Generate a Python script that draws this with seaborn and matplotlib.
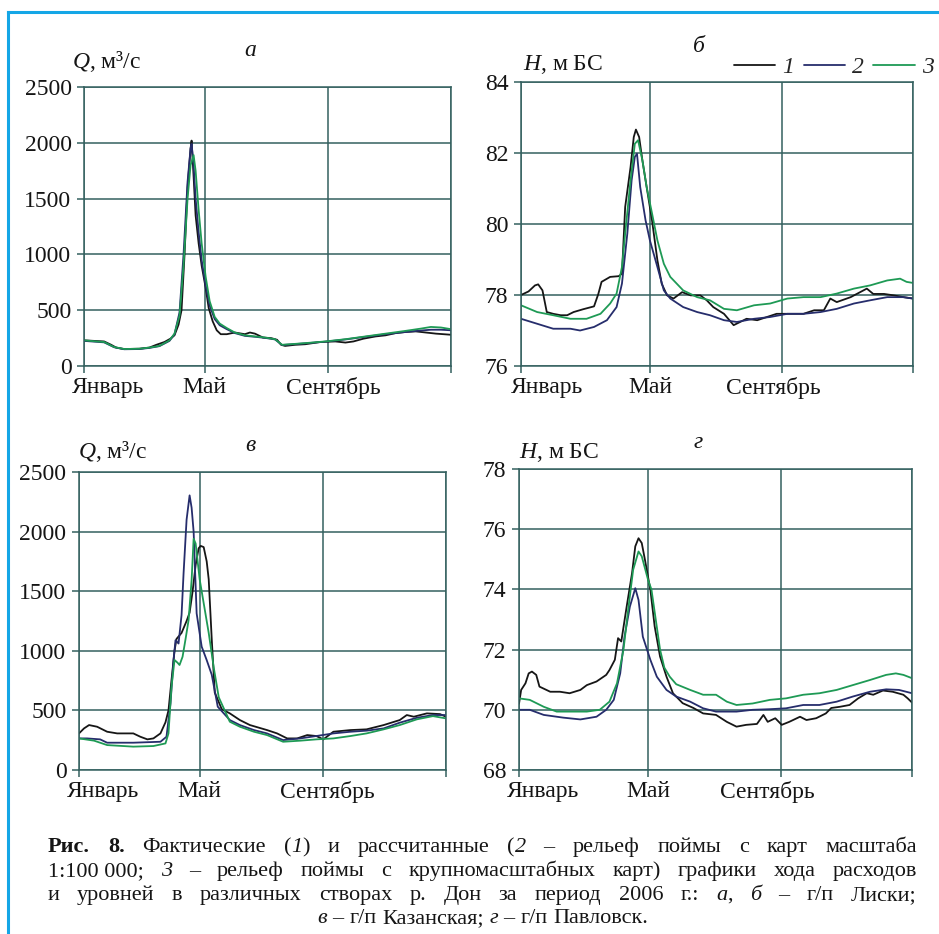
import re
import matplotlib
matplotlib.use("Agg")
import matplotlib.pyplot as plt
import seaborn as sns
from matplotlib.lines import Line2D

# ---------------- data (day of year 2006) -------------
MONTHS = ["Январь", "Май", "Сентябрь"]
MONTH_DAYS = [0, 120, 243]
XTICKS = [0, 120, 243, 365]
LEGEND_LABELS = ["1", "2", "3"]

# panel а (Q, Liski)
A_DAY_1 = [0, 10, 20, 27, 32, 40, 55, 65, 72, 80, 86, 90, 94, 97, 100, 103, 106, 107, 109, 111,
           114, 117, 121, 124, 128, 132, 136, 142, 150, 160, 165, 170, 178, 186, 192, 196, 200, 210, 220, 235,
           250, 260, 268, 278, 290, 300, 310, 320, 330, 340, 350, 365]
A_Q_1 = [230, 225, 220, 190, 165, 152, 155, 165, 190, 215, 245, 275, 370, 500, 1000, 1600, 1950, 2020, 1700, 1350,
         1100, 900, 700, 520, 400, 320, 285, 285, 300, 285, 300, 290, 255, 250, 235, 190, 180, 190, 195, 215,
         220, 210, 220, 245, 265, 275, 295, 305, 310, 300, 290, 280]
A_DAY_2 = [0, 20, 30, 40, 55, 65, 75, 85, 90, 95, 99, 103, 106, 107, 109, 111, 114, 117, 121, 125,
           130, 135, 142, 150, 160, 170, 180, 190, 197, 205, 220, 240, 260, 280, 300, 320, 335, 345, 355, 365]
A_Q_2 = [225, 212, 168, 150, 152, 162, 178, 225, 285, 480, 1000, 1650, 1950, 1990, 1800, 1500, 1200, 950, 720, 540,
         420, 365, 330, 295, 270, 262, 252, 238, 188, 193, 203, 218, 238, 262, 285, 305, 318, 325, 325, 320]
A_DAY_3 = [0, 10, 20, 30, 40, 55, 65, 75, 85, 90, 95, 99, 103, 106, 109, 111, 114, 117, 121, 125,
           130, 135, 142, 150, 160, 170, 180, 190, 197, 205, 220, 240, 260, 280, 300, 320, 335, 345, 355, 365]
A_Q_3 = [230, 222, 215, 170, 152, 155, 165, 180, 230, 290, 450, 900, 1500, 1800, 1890, 1750, 1400, 1100, 800, 580,
         440, 380, 340, 300, 275, 265, 255, 240, 190, 195, 205, 220, 240, 265, 290, 315, 335, 350, 345, 330]

# panel б (H, Liski)
B_DAY_1 = [0, 7, 13, 16, 20, 24, 30, 37, 43, 49, 58, 68, 72, 75, 83, 91, 94, 97, 102, 105,
           107, 110, 113, 117, 122, 127, 131, 136, 142, 150, 158, 167, 173, 179, 189, 198, 204, 210, 220, 229,
           238, 251, 263, 273, 282, 288, 294, 307, 322, 328, 338, 347, 356, 365]
B_H_1 = [78.0, 78.1, 78.27, 78.3, 78.13, 77.52, 77.47, 77.43, 77.43, 77.52, 77.6, 77.68, 78.03, 78.37, 78.51, 78.53,
         78.6, 80.48, 81.6, 82.45, 82.66, 82.45, 81.8, 81.04, 80.1, 78.98, 78.32, 77.99, 77.9, 78.08, 77.99, 77.99,
         77.85, 77.66, 77.47, 77.15, 77.24, 77.33, 77.29, 77.38, 77.47, 77.47, 77.47, 77.57, 77.57, 77.9, 77.8,
         77.94, 78.18, 78.03, 78.03, 77.99, 77.94, 77.9]
B_DAY_2 = [0, 15, 30, 46, 55, 68, 80, 89, 94, 99, 103, 106, 108, 111, 116, 120, 127, 133, 139, 151,
           164, 176, 189, 201, 217, 232, 248, 263, 279, 294, 310, 325, 341, 356, 365]
B_H_2 = [77.33, 77.19, 77.05, 77.05, 77.0, 77.1, 77.29, 77.66, 78.32, 79.73, 81.23, 81.89, 81.98, 81.04, 80.1,
         79.54, 78.79, 78.13, 77.9, 77.66, 77.52, 77.43, 77.29, 77.24, 77.33, 77.38, 77.47, 77.47, 77.52, 77.61,
         77.76, 77.85, 77.94, 77.94, 77.9]
B_DAY_3 = [0, 15, 30, 46, 61, 74, 83, 89, 94, 97, 102, 106, 109, 113, 117, 122, 127, 133, 139, 151,
           164, 176, 189, 201, 217, 232, 248, 263, 279, 294, 310, 325, 341, 353, 359, 365]
B_H_3 = [77.71, 77.52, 77.43, 77.33, 77.33, 77.47, 77.76, 78.04, 78.79, 79.73, 81.23, 82.26, 82.36, 81.8, 81.04,
         80.3, 79.54, 78.88, 78.51, 78.13, 77.94, 77.85, 77.61, 77.57, 77.71, 77.76, 77.9, 77.94, 77.94, 78.04,
         78.18, 78.27, 78.41, 78.46, 78.37, 78.34]

# panel в (Q, Kazanskaya)
C_DAY_1 = [0, 5, 10, 18, 28, 38, 54, 61, 68, 74, 81, 86, 89, 92, 95, 97, 102, 107, 110, 113,
           116, 119, 121, 124, 127, 129, 132, 135, 142, 150, 160, 170, 187, 197, 207, 217, 227, 236, 243, 253,
           270, 286, 303, 319, 326, 333, 346, 359, 365]
C_Q_1 = [307, 349, 377, 363, 321, 307, 307, 279, 257, 265, 307, 400, 500, 754, 1000, 1100, 1150, 1250, 1320, 1500,
         1720, 1860, 1880, 1870, 1750, 1600, 1100, 650, 510, 475, 419, 377, 335, 307, 265, 265, 293, 285, 257, 321,
         335, 341, 377, 419, 461, 447, 475, 469, 447]
C_DAY_2 = [0, 8, 21, 28, 54, 81, 87, 91, 94, 96, 99, 102, 104, 107, 110, 112, 114, 117, 122, 127,
           132, 138, 150, 160, 174, 187, 203, 220, 236, 253, 270, 286, 303, 319, 336, 352, 365]
C_Q_2 = [265, 265, 257, 229, 229, 237, 279, 559, 922, 1089, 1061, 1300, 1650, 2100, 2304, 2200, 2000, 1314, 1035, 922,
         800, 531, 419, 377, 335, 307, 251, 265, 285, 307, 321, 330, 349, 397, 438, 461, 461]
C_DAY_3 = [0, 15, 28, 54, 74, 86, 89, 92, 95, 98, 100, 103, 106, 109, 112, 114, 116, 118, 120, 124,
           129, 134, 139, 150, 160, 174, 187, 203, 220, 236, 253, 270, 286, 303, 319, 336, 352, 365]
C_Q_3 = [265, 246, 209, 196, 201, 223, 307, 698, 923, 900, 881, 950, 1100, 1258, 1594, 1940, 1900, 1750, 1600, 1400,
         1150, 860, 610, 405, 363, 321, 293, 237, 246, 257, 265, 285, 307, 341, 377, 425, 452, 433]

# panel г (H, Pavlovsk)
D_DAY_1 = [0, 2, 6, 9, 12, 16, 19, 29, 38, 47, 57, 63, 72, 81, 84, 89, 92, 95, 100, 105,
           108, 111, 114, 117, 122, 126, 131, 137, 143, 152, 162, 171, 183, 193, 202, 211, 221, 227, 231, 238,
           244, 251, 261, 267, 276, 285, 290, 298, 307, 315, 323, 329, 338, 347, 357, 361, 365]
D_H_1 = [70.2, 70.66, 70.88, 71.21, 71.27, 71.16, 70.77, 70.6, 70.6, 70.55, 70.66, 70.82, 70.94, 71.16, 71.32, 71.66,
         72.38, 72.27, 73.43, 74.54, 75.43, 75.7, 75.54, 74.98, 73.99, 72.77, 71.77, 71.1, 70.55, 70.22, 70.06,
         69.88, 69.83, 69.6, 69.44, 69.5, 69.53, 69.83, 69.6, 69.72, 69.5, 69.6, 69.77, 69.66, 69.72, 69.88, 70.06,
         70.1, 70.16, 70.38, 70.55, 70.5, 70.64, 70.6, 70.5, 70.38, 70.24]
D_DAY_2 = [0, 10, 23, 41, 57, 72, 81, 88, 94, 98, 103, 108, 111, 115, 122, 128, 137, 146, 159, 171,
           183, 202, 217, 233, 248, 264, 279, 295, 310, 326, 341, 353, 365]
D_H_2 = [70.0, 70.0, 69.83, 69.74, 69.68, 69.77, 70.0, 70.33, 71.21, 72.43, 73.43, 74.04, 73.65, 72.43, 71.66, 71.1,
         70.66, 70.44, 70.27, 70.05, 69.94, 69.94, 70.0, 70.02, 70.05, 70.16, 70.16, 70.27, 70.44, 70.6, 70.68,
         70.66, 70.55]
D_DAY_3 = [0, 10, 23, 35, 47, 63, 75, 84, 91, 97, 101, 106, 111, 114, 117, 120, 123, 127, 131, 135,
           140, 146, 159, 171, 183, 193, 202, 217, 233, 248, 264, 279, 295, 310, 326, 341, 350, 357, 365]
D_H_3 = [70.38, 70.33, 70.1, 69.94, 69.94, 69.94, 70.0, 70.27, 70.88, 71.99, 73.21, 74.65, 75.26, 75.1, 74.7, 74.3,
         74.0, 73.0, 72.0, 71.4, 71.1, 70.85, 70.66, 70.5, 70.5, 70.27, 70.16, 70.21, 70.33, 70.38, 70.5, 70.55,
         70.66, 70.82, 70.99, 71.16, 71.21, 71.16, 71.05]

Q_TICKS = [0, 500, 1000, 1500, 2000, 2500]
B_TICKS = [76, 78, 80, 82, 84]
D_TICKS = [68, 70, 72, 74, 76, 78]

CAPTION = [
    "**Рис.** **8.** Фактические (*1*) и рассчитанные (*2* – рельеф поймы с карт масштаба",
    "1:100\u00a0000; *3* – рельеф поймы с крупномасштабных карт) графики хода расходов",
    "и уровней в различных створах р. Дон за период 2006 г.: *а*, *б* – г/п Лиски;",
    "*в* – г/п Казанская; *г* – г/п Павловск.",
]

# ---------------- style ----------------
W, H = 939, 934
C1, C2, C3 = "#161616", "#262d6c", "#1e9a55"
GRID = "#34605f"
GLW = 1.1
LW = 1.3
FS = 17
FRAME = "#14a6e6"

sns.set_style("white")
plt.rcParams["font.family"] = ["Liberation Serif", "DejaVu Serif"]
plt.rcParams["mathtext.fontset"] = "custom"
plt.rcParams["mathtext.rm"] = "Liberation Serif"
plt.rcParams["mathtext.it"] = "Liberation Serif:italic"
plt.rcParams["axes.axisbelow"] = True

fig = plt.figure(figsize=(W / 100, H / 100), dpi=100)
fig.patch.set_facecolor("white")


def add_ax(l, r, t, b):
    return fig.add_axes([l / W, 1 - b / H, (r - l) / W, (b - t) / H])


def draw_panel(ax, series, ylim, yticks, month_dx):
    for days, vals, color in series:
        sns.lineplot(x=days, y=vals, ax=ax, color=color, linewidth=LW,
                     legend=False, estimator=None, sort=False)
    ax.set_xlim(0, 365)
    ax.set_ylim(*ylim)
    ax.set_xticks(XTICKS)
    ax.set_xticklabels([])
    ax.set_yticks(yticks)
    ax.set_yticklabels([str(v) for v in yticks])
    ax.grid(True, color=GRID, linewidth=GLW)
    for s in ax.spines.values():
        s.set_visible(True)
        s.set_color(GRID)
        s.set_linewidth(GLW)
    ax.tick_params(axis="both", direction="out", length=5, width=GLW, color=GRID,
                   labelsize=FS, pad=4, labelcolor="#151515")
    ax.tick_params(axis="x", bottom=True, top=False)
    ax.tick_params(axis="y", left=True, right=False)
    ax.set_xlabel("")
    ax.set_ylabel("")
    for d, lab, dx, ha in zip(MONTH_DAYS, MONTHS, month_dx, ["left", "center", "center"]):
        ax.annotate(lab, xy=(d, 0), xycoords=("data", "axes fraction"), xytext=(dx, -11),
                    textcoords="offset pixels", ha=ha, va="top", fontsize=FS, color="#151515")


ax_a = add_ax(84, 451, 87, 366)
draw_panel(ax_a, [(A_DAY_1, A_Q_1, C1), (A_DAY_2, A_Q_2, C2), (A_DAY_3, A_Q_3, C3)],
           (0, 2500), Q_TICKS, [-12, 0, 5])
ax_b = add_ax(521, 913, 82, 366)
draw_panel(ax_b, [(B_DAY_1, B_H_1, C1), (B_DAY_2, B_H_2, C2), (B_DAY_3, B_H_3, C3)],
           (76, 84), B_TICKS, [-10, 0, -9])
ax_c = add_ax(79, 446, 472, 770)
draw_panel(ax_c, [(C_DAY_1, C_Q_1, C1), (C_DAY_2, C_Q_2, C2), (C_DAY_3, C_Q_3, C3)],
           (0, 2500), Q_TICKS, [-12, 0, 4])
ax_d = add_ax(519, 912, 469, 770)
draw_panel(ax_d, [(D_DAY_1, D_H_1, C1), (D_DAY_2, D_H_2, C2), (D_DAY_3, D_H_3, C3)],
           (68, 78), D_TICKS, [-12, 0, -13])

# axis titles and panel letters
for x, y, s in [(72, 62, r"$Q$, м³/с"), (523, 65, r"$H$, м БС"),
                (78, 452, r"$Q$, м³/с"), (519, 452, r"$H$, м БС")]:
    fig.text(x / W, 1 - y / H, s, fontsize=FS, va="center", ha="left", color="#151515")
for x, y, s in [(250, 50, "а"), (699, 47, "б"), (250, 445, "в"), (698, 443, "г")]:
    fig.text(x / W, 1 - y / H, s, fontsize=FS, style="italic", va="center", ha="center",
             color="#151515")

# legend
fig.legend(ax_b.get_lines()[:3], LEGEND_LABELS, loc="center left",
           bbox_to_anchor=(734 / W, 1 - 67 / H), ncol=3, frameon=False,
           prop={"style": "italic", "size": FS}, handlelength=1.75, handletextpad=0.3,
           columnspacing=0.4, borderpad=0, borderaxespad=0)

# frame
fig.add_artist(Line2D([8 / W, 8 / W], [0, 1 - 11.5 / H], transform=fig.transFigure,
                      color=FRAME, linewidth=2.2, solid_capstyle="projecting"))
fig.add_artist(Line2D([8 / W, 1], [1 - 11.5 / H, 1 - 11.5 / H], transform=fig.transFigure,
                      color=FRAME, linewidth=2.2, solid_capstyle="projecting"))

# caption (justified, word by word)
CAP_FS = 16
renderer = fig.canvas.get_renderer()


def parse_word(w):
    segs = []
    for m in re.finditer(r"\*\*(.+?)\*\*|\*(.+?)\*|([^*]+)", w):
        if m.group(1):
            segs.append((m.group(1), "bold", "normal"))
        elif m.group(2):
            segs.append((m.group(2), "normal", "italic"))
        else:
            segs.append((m.group(3), "normal", "normal"))
    return segs


def text_width(t):
    return t.get_window_extent(renderer).width


probe1 = fig.text(0, 0, "x x", fontsize=CAP_FS)
probe2 = fig.text(0, 0, "xx", fontsize=CAP_FS)
SPACE = text_width(probe1) - text_width(probe2)
probe1.remove()
probe2.remove()


def place_line(line, y_px, x0, x1, justify):
    words = []
    for w in line.split(" "):
        segs = []
        for (t, wt, st) in parse_word(w):
            obj = fig.text(0, 1 - y_px / H, t, fontsize=CAP_FS, fontweight=wt, fontstyle=st,
                           ha="left", va="baseline", color="#151515")
            segs.append((obj, text_width(obj)))
        words.append(segs)
    widths = [sum(s[1] for s in w) for w in words]
    if justify and len(words) > 1:
        gap = (x1 - x0 - sum(widths)) / (len(words) - 1)
        x = x0
    else:
        gap = SPACE
        total = sum(widths) + gap * (len(words) - 1)
        x = (x0 + x1) / 2 - total / 2
    for segs, ww in zip(words, widths):
        xx = x
        for obj, sw in segs:
            obj.set_x(xx / W)
            xx += sw
        x += ww + gap


for i, (line, y) in enumerate(zip(CAPTION, [852, 876, 900, 923])):
    place_line(line, y, 48, 917, justify=(i < 3))

fig.savefig("out.png", dpi=100, facecolor="white")
